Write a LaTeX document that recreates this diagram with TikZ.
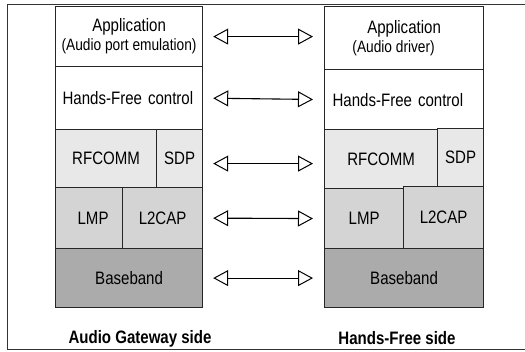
\documentclass[tikz,border=0pt]{standalone}
\usepackage{fontspec}
\setmainfont{Liberation Sans}[FakeStretch=0.836]
\usetikzlibrary{arrows.meta}

\newcommand{\sublabel}[1]{{\fontsize{16.4}{19}\selectfont #1}}

\begin{document}
\begin{tikzpicture}[x=1pt,y=-1pt,font=\fontsize{18}{19}\selectfont,
    layer/.style={draw=black!85, line width=1.2pt, anchor=north west, inner sep=0pt, align=center},
    leftlayer/.style={layer, align=left, inner xsep=7pt},
    light/.style={fill=gray!18},
    mid/.style={fill=gray!34},
    dark/.style={fill=gray!66},
    peer/.style={line width=1.1pt, {Triangle[open,length=15pt,width=16pt,line width=1pt]}-{Triangle[open,length=15pt,width=16pt,line width=1pt]}, shorten <=10pt, shorten >=11pt},
    side/.style={font=\fontsize{18}{19}\selectfont\bfseries}]

    \useasboundingbox (0,0) rectangle (525,352);
    \draw[line width=1pt, black!80] (525,5) -- (7,5) -- (7,350) -- (525,350);

    % audio gateway stack
    \node[layer, minimum width=147pt, minimum height=60pt] (agapp) at (55,6) {Application\\\sublabel{(Audio port emulation)}};
    \node[leftlayer, text width=133pt, minimum height=63pt] (aghf) at (55,66) {Hands-Free control};
    \node[layer, light, minimum width=101pt, minimum height=58pt] (agrfcomm) at (55,129) {RFCOMM};
    \node[layer, light, minimum width=46pt, minimum height=58pt] (agsdp) at (156,129) {SDP};
    \node[layer, mid, minimum width=67pt, minimum height=61pt] (aglmp) at (55,187) {\hspace*{8pt}LMP};
    \node[layer, mid, minimum width=80pt, minimum height=61pt] (agl2cap) at (122,187) {L2CAP};
    \node[layer, dark, minimum width=147pt, minimum height=59pt] (agbase) at (55,248) {Baseband};

    % hands-free stack
    \node[layer, minimum width=159pt, minimum height=63pt] (hfapp) at (324,6) {Application\\\sublabel{(Audio driver)}\hspace*{21pt}};
    \node[leftlayer, inner xsep=8pt, text width=143pt, minimum height=60pt] (hfhf) at (324,69) {Hands-Free control};
    \node[layer, light, minimum width=113pt, minimum height=59pt] (hfrfcomm) at (324,129) {RFCOMM};
    \node[layer, light, minimum width=46pt, minimum height=58pt] (hfsdp) at (437,128) {SDP};
    \node[layer, mid, minimum width=79pt, minimum height=60pt] (hflmp) at (324,188) {LMP};
    \node[layer, mid, minimum width=80pt, minimum height=62pt] (hfl2cap) at (403,186) {L2CAP};
    \node[layer, dark, minimum width=159pt, minimum height=59pt] (hfbase) at (324,248) {Baseband};

    \draw[peer] (agapp.east) -- (agapp.east -| hfapp.west);
    \draw[peer] (aghf.east) -- (hfhf.west);
    \draw[peer] ([yshift=-5pt]agsdp.east) -- ([yshift=-5pt]agsdp.east -| hfrfcomm.west);
    \draw[peer] (agl2cap.east) -- (hflmp.west);
    \draw[peer] (agbase.east) -- (hfbase.west);

    \node[side] (agside) at (140,339) {Audio Gateway side};
    \node[side] (hfside) at (397,338) {Hands-Free side};
    %
\end{tikzpicture}
\end{document}
